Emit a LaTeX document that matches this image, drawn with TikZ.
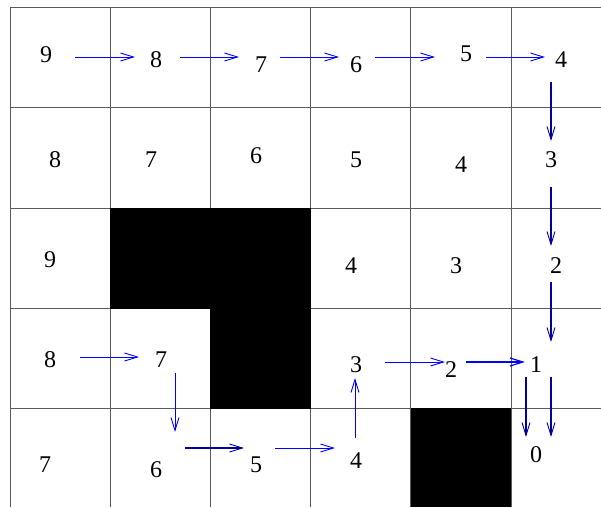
\documentclass[tikz,border=0pt]{standalone}
\usepackage{fontspec}
\setmainfont{Liberation Serif}
\usetikzlibrary{arrows.meta,calc}
\definecolor{Navy}{HTML}{00009C}
\definecolor{Blue}{HTML}{0000FF}
\definecolor{Rule}{HTML}{5A5A5A}

\begin{document}
\begin{tikzpicture}[
  x=1pt,y=-1pt,
  every node/.style={font=\fontsize{24}{28}\selectfont,inner sep=0pt},
  grid/.style={draw=Rule,line width=0.8pt},
  wall/.style={fill=black},
  arr/.style={-{Straight Barb[length=13pt,width=8pt]},line width=0.9pt,Blue},
  darr/.style={-{Straight Barb[length=13pt,width=8pt,line width=0.9pt]},line width=1.7pt,Navy}
]
  \useasboundingbox (0,0) rectangle (601,507);
  \foreach \y in {7,107.5,208,308,408} \draw[grid] (10,\y) -- (601,\y);
  \foreach \x in {10,110,210,310.5,410.5,511} \draw[grid] (\x,7) -- (\x,507);
  \fill[wall] (110,207.5) rectangle (310.5,308.5);
  \fill[wall] (210,308) rectangle (310.5,408.5);
  \fill[wall] (410.5,407.5) rectangle (511,507);

  \node (n00) at (46,55) {9};
  \node (n01) at (156,60) {8};
  \node (n02) at (261,65) {7};
  \node (n03) at (356,65) {6};
  \node (n04) at (466,54) {5};
  \node (n05) at (561,60) {4};
  \node (n10) at (55,160) {8};
  \node (n11) at (151,160) {7};
  \node (n12) at (256,156) {6};
  \node (n13) at (356,160) {5};
  \node (n14) at (461,165) {4};
  \node (n15) at (551,160) {3};
  \node (n20) at (50,260) {9};
  \node (n23) at (351,266) {4};
  \node (n24) at (456,266) {3};
  \node (n25) at (556,266) {2};
  \node (n30) at (50,360) {8};
  \node (n31) at (161,360) {7};
  \node (n33) at (356,365) {3};
  \node (n34) at (451,370) {2};
  \node (n35) at (536,365) {1};
  \node (n40) at (45,465) {7};
  \node (n41) at (156,470) {6};
  \node (n42) at (256,465) {5};
  \node (n43) at (356,461) {4};
  \node (n45) at (536,455) {0};

  \draw[arr] ($(n00)+(29,2)$) -- ($(n01)+(-21,-3)$);
  \draw[arr] ($(n01)+(24,-3)$) -- ($(n02)+(-22,-8)$);
  \draw[arr] ($(n02)+(19,-8)$) -- ($(n03)+(-17,-8)$);
  \draw[arr] ($(n03)+(19,-8)$) -- ($(n04)+(-31,3)$);
  \draw[arr] ($(n04)+(20,3)$) -- ($(n05)+(-16,-3)$);
  \draw[darr] ($(n05)+(-10,22)$) -- ($(n15)+(0,-19)$);
  \draw[darr] ($(n15)+(0,27)$) -- ($(n25)+(-5,-20)$);
  \draw[darr] ($(n25)+(-5,16)$) -- ($(n35)+(15,-23)$);
  \draw[darr] ($(n35)+(-10,12)$) -- ($(n45)+(-10,-18)$);
  \draw[darr] ($(n35)+(15,12)$) -- ($(n45)+(15,-18)$);
  \draw[arr] ($(n30)+(30,-3)$) -- ($(n31)+(-22,-3)$);
  \draw[arr] ($(n31)+(14,13)$) -- ($(n41)+(19,-38)$);
  \draw[darr] ($(n41)+(29,-22)$) -- ($(n42)+(-12,-17)$);
  \draw[arr] ($(n42)+(19,-17)$) -- ($(n43)+(-21,-13)$);
  \draw[arr] ($(n43)+(-1,-23)$) -- ($(n33)+(-1,13)$);
  \draw[arr] ($(n33)+(29,-3)$) -- ($(n34)+(-6,-8)$);
  \draw[arr,line width=1.2pt] ($(n34)+(15,-8)$) -- ($(n35)+(-11,-3)$);
\end{tikzpicture}
\end{document}
